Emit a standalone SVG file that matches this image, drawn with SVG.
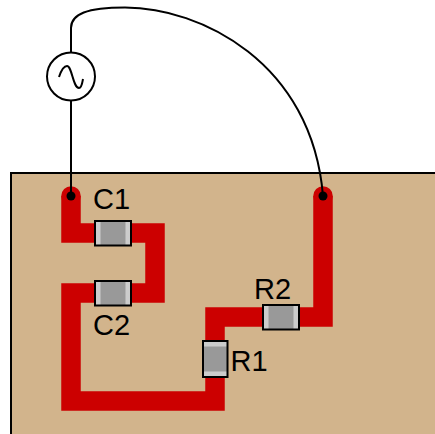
<svg xmlns="http://www.w3.org/2000/svg" width="435" height="434" viewBox="0 0 435 434">
<style>
.trace{fill:none;stroke:#cc0000;stroke-width:19.5;stroke-linejoin:miter}
.wire{fill:none;stroke:#000;stroke-width:2}
.body{fill:#ccc;stroke:none}
.core{fill:#999;stroke:none}
.edge{fill:none;stroke:#000;stroke-width:2}
.dot{fill:#000}
text{font-family:"Liberation Sans",Arial,sans-serif;font-size:29px;fill:#000}
</style>
<rect id="board" x="11" y="173" width="430" height="267" fill="#d2b48c" stroke="#000" stroke-width="2"/>
<g id="connectors">
<path class="trace" d="M71 196V233H155V293H71V401H215V317H323V196"/>
<circle cx="71" cy="196" r="9.75" fill="#cc0000"/>
<circle cx="323" cy="196" r="9.75" fill="#cc0000"/>
<path class="wire" d="M71 196V100M71 52V28C71 14 87 7.500 125 7.500C200 7.500 312 62 323 196"/>
<circle class="dot" cx="71" cy="196" r="4.5"/>
<circle class="dot" cx="323" cy="196" r="4.5"/>
</g>
<g id="source">
<circle cx="71" cy="76.500" r="24" fill="#fff" stroke="#000" stroke-width="2"/>
<path class="wire" d="M59 77C62 68 65 66 67 66C72 66 73 88 79 88C81 88 82 85 83 79" stroke-width="1.500"/>
</g>
<g id="C1">
<rect class="body" x="95" y="221" width="36" height="24.500"/>
<rect class="core" x="100.500" y="222" width="25" height="23"/>
<rect class="edge" x="95" y="221" width="36" height="24.500"/>
<text x="93" y="208.500">C1</text>
</g>
<g id="C2">
<rect class="body" x="95" y="281" width="36" height="24.500"/>
<rect class="core" x="100.500" y="282" width="25" height="23"/>
<rect class="edge" x="95" y="281" width="36" height="24.500"/>
<text x="93" y="335">C2</text>
</g>
<g id="R1">
<rect class="body" x="203" y="341" width="24.500" height="36"/>
<rect class="core" x="204" y="346.500" width="23" height="25"/>
<rect class="edge" x="203" y="341" width="24.500" height="36"/>
<text x="230.500" y="371">R1</text>
</g>
<g id="R2">
<rect class="body" x="263" y="305" width="36" height="24.500"/>
<rect class="core" x="268.500" y="306" width="25" height="23"/>
<rect class="edge" x="263" y="305" width="36" height="24.500"/>
<text x="254" y="298.500">R2</text>
</g>
</svg>
